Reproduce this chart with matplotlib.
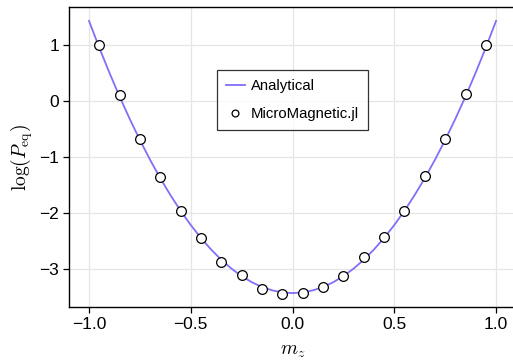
import matplotlib
matplotlib.use("Agg")
import matplotlib.pyplot as plt
import numpy as np

# Analytical curve
mz_curve = [-1.00, -0.95, -0.90, -0.85, -0.80, -0.75, -0.70, -0.65, -0.60, -0.55,
            -0.50, -0.45, -0.40, -0.35, -0.30, -0.25, -0.20, -0.15, -0.10, -0.05,
            0.00, 0.05, 0.10, 0.15, 0.20, 0.25, 0.30, 0.35, 0.40, 0.45,
            0.50, 0.55, 0.60, 0.65, 0.70, 0.75, 0.80, 0.85, 0.90, 0.95, 1.00]
logp_curve = [1.43, 0.956, 0.507, 0.081, -0.320, -0.696, -1.049, -1.377, -1.680, -1.960,
              -2.215, -2.446, -2.652, -2.835, -2.993, -3.126, -3.236, -3.321, -3.381, -3.418,
              -3.43, -3.418, -3.381, -3.321, -3.236, -3.126, -2.993, -2.835, -2.652, -2.446,
              -2.215, -1.960, -1.680, -1.377, -1.049, -0.696, -0.320, 0.081, 0.507, 0.956, 1.43]

# MicroMagnetic.jl simulation points
mz_sim = [-0.95, -0.85, -0.75, -0.65, -0.55, -0.45, -0.35, -0.25, -0.15, -0.05,
          0.05, 0.15, 0.25, 0.35, 0.45, 0.55, 0.65, 0.75, 0.85, 0.95]
logp_sim = [1.00, 0.10, -0.68, -1.35, -1.96, -2.44, -2.88, -3.11, -3.36, -3.44,
            -3.43, -3.33, -3.13, -2.79, -2.43, -1.96, -1.34, -0.67, 0.13, 1.00]

xticks = [-1.0, -0.5, 0.0, 0.5, 1.0]
xticklabels = ["−1.0", "−0.5", "0.0", "0.5", "1.0"]
yticks = [-3, -2, -1, 0, 1]
yticklabels = ["−3", "−2", "−1", "0", "1"]

plt.rcParams['font.family'] = ['Liberation Sans', 'DejaVu Sans']
plt.rcParams['mathtext.fontset'] = 'cm'

W, H = 513, 362
fig = plt.figure(figsize=(W / 100, H / 100), dpi=100)
left, right, top, bottom = 68.65, 516.4, 6.9, 307.1
ax = fig.add_axes([left / W, 1 - bottom / H, (right - left) / W, (bottom - top) / H])

ax.plot(mz_curve, logp_curve, color='#7f70f8', lw=1.3, label='Analytical', zorder=3)
ax.plot(mz_sim, logp_sim, ls='none', marker='o', ms=7.0, mfc='white', mec='black',
        mew=0.9, label='MicroMagnetic.jl', zorder=4)

ax.set_xlim(-1.1, 1.1)
ax.set_ylim(-3.68, 1.68)
ax.set_xticks(xticks)
ax.set_xticklabels(xticklabels)
ax.set_yticks(yticks)
ax.set_yticklabels(yticklabels)
ax.tick_params(labelsize=12.5, length=4, width=0.9, direction='out', pad=3)
ax.grid(True, color='#e6e6e6', lw=0.9, zorder=0)
ax.set_axisbelow(True)
for s in ax.spines.values():
    s.set_linewidth(1.0)

ax.set_xlabel(r'$m_z$', fontsize=14, labelpad=8)
ax.set_ylabel(r'$\log(P_{\mathrm{eq}})$', fontsize=14, labelpad=3)

leg = ax.legend(loc='upper left', bbox_to_anchor=(0.331, 0.790), borderaxespad=0,
                fontsize=10.7, frameon=True, fancybox=False, edgecolor='black',
                handlelength=1.3, handletextpad=0.4, labelspacing=0.95,
                borderpad=0.6, markerscale=0.7)
leg.get_frame().set_linewidth(0.9)

fig.savefig('out.png', dpi=100)
